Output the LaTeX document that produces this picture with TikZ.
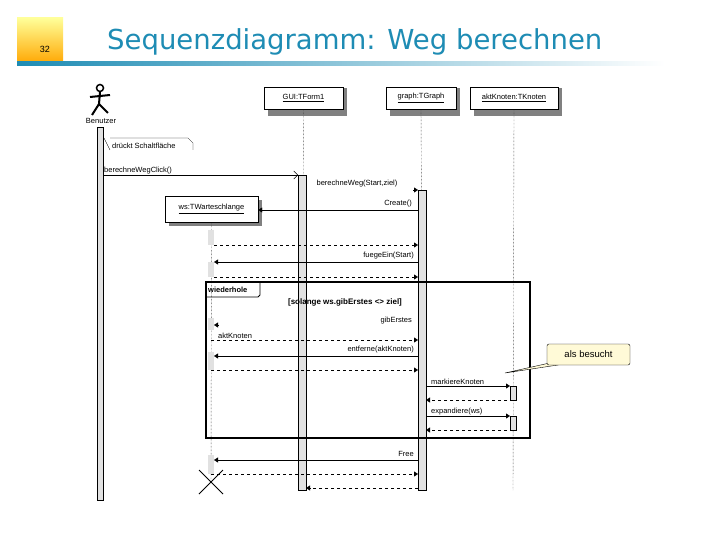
\documentclass[tikz,border=0pt]{standalone}
\usepackage{fontspec}
\setmainfont{Liberation Sans}
\newfontfamily\titlefont{DejaVu Sans}
\usetikzlibrary{arrows.meta}
\definecolor{teal1}{RGB}{30,140,180}
\definecolor{actbar}{RGB}{225,225,225}
\definecolor{notey}{RGB}{255,250,215}
\tikzset{
  x=1pt,y=-1pt,
  lbl/.style={font=\fontsize{7.5}{8}\selectfont,inner sep=1pt},
  obj/.style={draw,fill=white,minimum height=22pt,font=\fontsize{7.5}{8}\selectfont,inner sep=3pt},
  life/.style={densely dotted,line width=0.4pt},
  act/.style={draw,fill=actbar,line width=0.4pt},
  msg/.style={-{Triangle[length=4pt,width=5pt]},line width=0.4pt},
  ret/.style={-{Triangle[length=4pt,width=5pt]},dashed,line width=0.4pt},
}
\begin{document}
\begin{tikzpicture}
\useasboundingbox (0,0) rectangle (720,540);
% header
\shade[top color=yellow!40!white,bottom color=orange!70!yellow] (17,18) rectangle (63,64);
\node[font=\fontsize{9}{10}\selectfont] (pg) at (45,49) {32};
\shade[left color=teal1,right color=white] (17,62) rectangle (665,66);
\node[font=\titlefont\fontsize{27.5}{30}\selectfont,text=teal1,anchor=west,inner sep=0] (title) at (107,42) {Sequenzdiagramm: Weg berechnen};
% actor
\draw[line width=1.5pt] (100,88) circle (3.5);
\draw[line width=2pt] (90,97)--(110,95) (100,92)--(99,104) (99,104)--(92,115) (99,104)--(108,113);
\node[lbl] (ben) at (101,121) {Benutzer};
% objects
\fill[gray] (268,88) rectangle (347,116);
\node[obj,minimum width=79pt] (gui) at (303.5,98) {\underline{GUI:TForm1}};
\fill[gray] (390,88) rectangle (460,116);
\node[obj,minimum width=70pt] (gr) at (421,98) {\underline{graph:TGraph}};
\fill[gray] (474,88) rectangle (562,116);
\node[obj,minimum width=88pt] (ak) at (514,98) {\underline{aktKnoten:TKnoten}};
\fill[gray] (169,200) rectangle (262,226);
\node[obj,minimum width=93pt,minimum height=26pt] (ws) at (211.5,209) {\underline{ws:TWarteschlange}};
% lifelines
\draw[life] (gui.south) -- (302,490);
\draw[life] (gr.south) -- (423,490);
\draw[life] (ak.south) -- (513,490);
\draw[life] (ws.south) -- (211,482);
% activations
\draw[act] (97,127) rectangle (103,500);
\draw[act] (298,175) rectangle (306,490);
\draw[act] (418,190) rectangle (426,490);
\draw[act] (510,386) rectangle (516,400);
\draw[act] (510,416) rectangle (516,430);
\foreach \a/\b in {230/245,262/277,318/330,352/370,455/474}{\fill[actbar] (208,\a) rectangle (214,\b);}
% note
\draw[line width=0.3pt] (104,138)--(110,150) (110,138)--(188,138)--(193,143)--(193,150);
\node[lbl,anchor=west] (nt) at (111,146) {drückt Schaltfläche};
% messages
\coordinate (c1) at (103,175); \coordinate (c2) at (298,175);
\draw[-{Straight Barb[length=4pt]},line width=0.4pt] (c1) -- node[lbl,pos=0,anchor=south west] {berechneWegClick()} (c2);
\coordinate (c3) at (413,190); \coordinate (c4) at (418,190);
\draw[msg] (c3) -- (c4);
\node[lbl] at (357,184) {berechneWeg(Start,ziel)};
\coordinate (c5) at (418,210);
\draw[msg] (c5) -- (ws.east |- c5);
\node[lbl,anchor=south east] at (413,208) {Create()};
\coordinate (d1) at (214,245); \coordinate (d2) at (418,245);
\draw[ret] (d1) -- (d2);
\coordinate (e1) at (418,262); \coordinate (e2) at (214,262);
\draw[msg] (e1) -- (e2); \node[lbl,anchor=south east] at (415,260) {fuegeEin(Start)};
\coordinate (f1) at (214,277); \coordinate (f2) at (418,277);
\draw[ret] (f1) -- (f2);
% loop frame
\draw[line width=1.2pt] (206,282) rectangle (530,438);
\draw[line width=0.8pt] (206,297)--(258,297)--(260,295)--(260,282);
\node[lbl,font=\fontsize{7.5}{8}\selectfont\bfseries,anchor=west] (wh) at (207,289.5) {wiederhole};
\node[lbl,font=\fontsize{8}{9}\selectfont\bfseries] (grd) at (345,302) {[solange ws.gibErstes <> ziel]};
\coordinate (g1) at (219,325); \coordinate (g2) at (214,325);
\draw[msg] (g1) -- (g2); \node[lbl,anchor=south east] at (413,325) {gibErstes};
\coordinate (h1) at (211,340); \coordinate (h2) at (418,340);
\draw[ret] (h1) -- node[lbl,pos=0,anchor=south west,xshift=6pt] {aktKnoten} (h2);
\coordinate (i1) at (418,356); \coordinate (i2) at (214,356);
\draw[msg] (i1) -- (i2); \node[lbl,anchor=south east] at (415,354) {entferne(aktKnoten)};
\coordinate (j1) at (211,370); \coordinate (j2) at (418,370);
\draw[ret] (j1) -- (j2);
\coordinate (k1) at (426,386); \coordinate (k2) at (510,386);
\draw[msg] (k1) -- node[lbl,pos=0,anchor=south west,xshift=4pt] {markiereKnoten} (k2);
\coordinate (l1) at (513,400); \coordinate (l2) at (426,400);
\draw[ret] (l1) -- (l2);
\coordinate (m1) at (426,416); \coordinate (m2) at (510,416);
\draw[msg] (m1) -- node[lbl,pos=0,anchor=south west,xshift=4pt] {expandiere(ws)} (m2);
\coordinate (n1) at (513,430); \coordinate (n2) at (426,430);
\draw[ret] (n1) -- (n2);
% after loop
\coordinate (o1) at (418,460); \coordinate (o2) at (214,460);
\draw[msg] (o1) -- (o2); \node[lbl,anchor=south east] at (415,458) {Free};
\coordinate (p1) at (211,474); \coordinate (p2) at (418,474);
\draw[ret] (p1) -- (p2);
\draw[line width=0.8pt] (199,470)--(223,494) (199,494)--(223,470);
\coordinate (q1) at (418,488); \coordinate (q2) at (306,488);
\draw[ret] (q1) -- (q2);
% callout
\coordinate (tip) at (505,373);
\draw[fill=notey] (554,362) -- (tip) -- (558,365) -- cycle;
\node[draw,rounded corners=2pt,minimum width=83pt,minimum height=21pt,font=\fontsize{9.5}{10}\selectfont,fill=notey] (cb) at (588.5,354.5) {als besucht};
\end{tikzpicture}
\end{document}
